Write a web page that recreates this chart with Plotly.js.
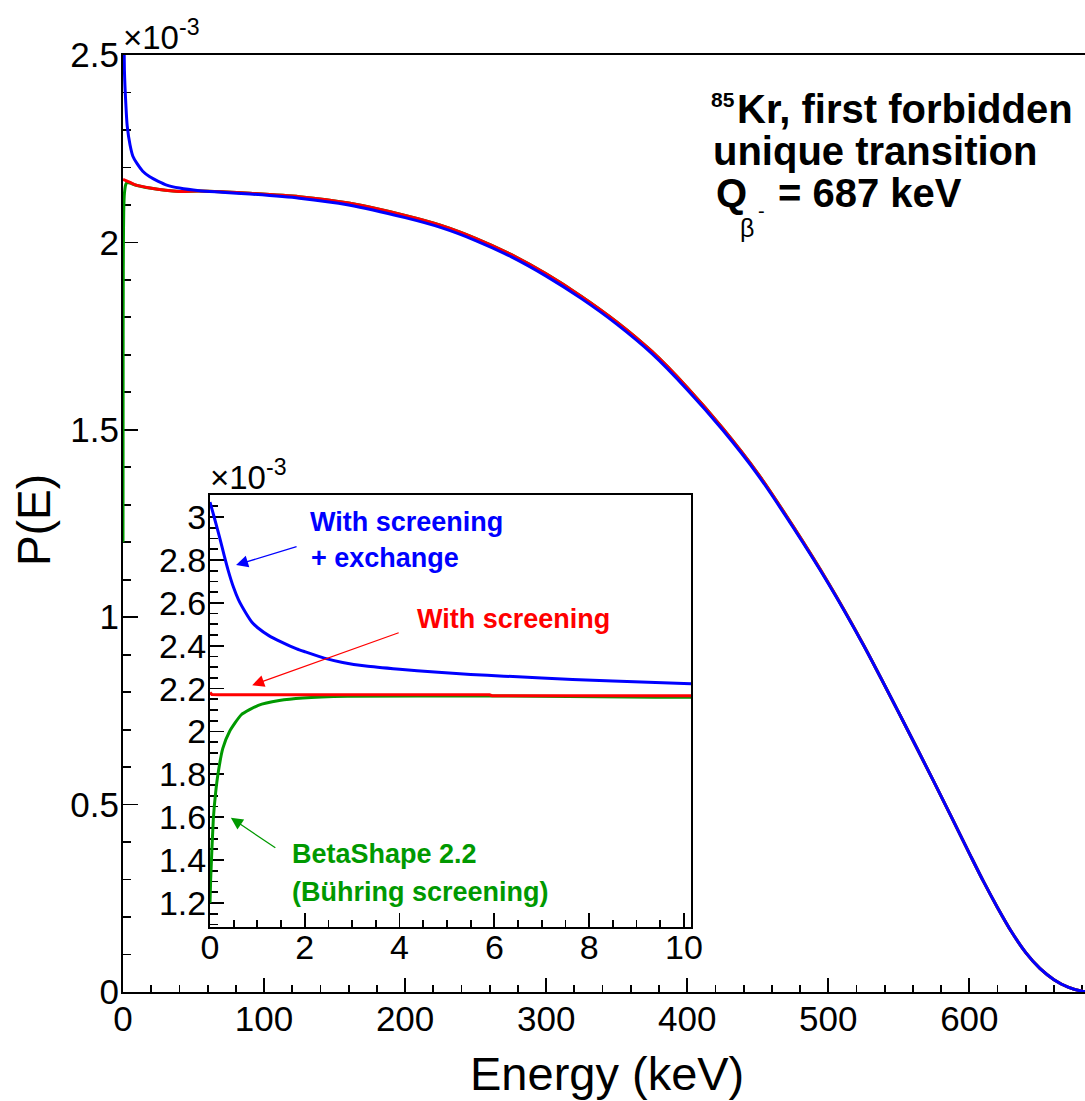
<!DOCTYPE html>
<html>
<head>
<meta charset="utf-8">
<script src="https://cdn.plot.ly/plotly-3.0.1.min.js"></script>
<style>html,body{margin:0;padding:0;background:#fff;}#chart{width:1085px;height:1101px;}</style>
</head>
<body>
<div id="chart"></div>
<script>
// ---------- Main spectrum (values in units of 1e-3) ----------
const mainEnergy = [0,0.5,1,2,3,5,7,10,14,19,25,31,40,54,70,90,125,160,200,225,250,275,300,325,350,375,400,425,450,475,500,525,550,575,600,610,620,630,640,650,660,670,680,687];
const mainScreeningExchange = [3.06,2.62,2.46,2.37,2.31,2.26,2.23,2.21,2.19,2.175,2.163,2.153,2.145,2.138,2.134,2.129,2.118,2.100,2.066,2.040,2.005,1.962,1.910,1.850,1.782,1.703,1.607,1.500,1.380,1.240,1.090,0.925,0.745,0.560,0.370,0.295,0.225,0.160,0.105,0.063,0.033,0.013,0.002,0];
const mainEnergyRed = [0,5,10,19,30,40,54,70,90,125,160,200,225,250,275,300,325,350,375,400,425,450,475,500,525,550,575,600,610,620,630,640,650,660,670,680,687];
const mainScreening = [2.168,2.160,2.152,2.145,2.139,2.136,2.137,2.135,2.131,2.122,2.105,2.072,2.046,2.011,1.968,1.916,1.856,1.788,1.709,1.613,1.505,1.384,1.243,1.092,0.926,0.745,0.560,0.370,0.295,0.225,0.160,0.105,0.063,0.033,0.013,0.002,0];
const mainEnergyGreen = [0,0.1,0.2,0.3,0.5,1,2,3,5,10,19,30,40,54,70,90,125,160,200,225,250,275,300,325,350,375,400,425,450,475,500,525,550,575,600,610,620,630,640,650,660,670,680,687];
const mainBetaShape = [1.2,1.75,1.93,2.0,2.08,2.13,2.155,2.16,2.158,2.152,2.145,2.139,2.136,2.137,2.135,2.131,2.122,2.105,2.072,2.046,2.011,1.968,1.916,1.856,1.788,1.709,1.613,1.505,1.384,1.243,1.092,0.926,0.745,0.560,0.370,0.295,0.225,0.160,0.105,0.063,0.033,0.013,0.002,0];

// ---------- Inset (0-10 keV) ----------
const insetEnergyBlue = [0,0.05,0.1,0.2,0.3,0.38,0.5,0.6,0.75,0.89,1.0,1.25,1.5,1.83,2.0,2.41,2.8,3.29,4.0,4.74,5.5,6.2,7.0,7.65,8.5,9.1,10.15];
const insetScreeningExchange = [3.07,3.03,2.99,2.908,2.82,2.754,2.67,2.615,2.555,2.508,2.485,2.446,2.418,2.385,2.372,2.342,2.322,2.305,2.29,2.277,2.266,2.258,2.25,2.243,2.236,2.231,2.223];
const insetEnergyRed = [0,0.04,0.2,1,3,5.9,5.95,10.15];
const insetScreening = [2.182,2.172,2.171,2.171,2.171,2.171,2.167,2.167];
const insetEnergyGreen = [0,0.014,0.07,0.12,0.17,0.27,0.41,0.66,1.02,1.46,1.96,2.9,5.78,9.4,10.15];
const insetBetaShape = [1.2,1.31,1.592,1.717,1.804,1.921,1.999,2.078,2.122,2.144,2.156,2.164,2.166,2.16,2.16];

// axis ticks
const mainXTicks = [0,100,200,300,400,500,600];
const mainYTicks = [0,0.5,1,1.5,2,2.5];

const BLUE = '#0000ff', RED = '#ff0000', GREEN = '#009900';
const FONT = 'Liberation Sans, Arial, Helvetica, sans-serif';

// pixel -> paper helpers (plot area: x 123..1085, y 55..992)
const L = 123, R = 1085, T = 55, B = 992;
const px = x => (x - L) / (R - L);
const py = y => (B - y) / (B - T);

const mainLine = c => ({color: c, width: 3, shape: 'spline', smoothing: 0.7});
const insetLine = c => ({color: c, width: 3, shape: 'spline', smoothing: 0.5});

const traces = [
  {x: mainEnergyGreen, y: mainBetaShape, mode: 'lines', line: mainLine(GREEN), xaxis: 'x', yaxis: 'y', hoverinfo: 'skip'},
  {x: mainEnergyRed, y: mainScreening, mode: 'lines', line: mainLine(RED), xaxis: 'x', yaxis: 'y', hoverinfo: 'skip'},
  {x: mainEnergy, y: mainScreeningExchange, mode: 'lines', line: mainLine(BLUE), xaxis: 'x', yaxis: 'y', hoverinfo: 'skip'},
  {x: insetEnergyBlue, y: insetScreeningExchange, mode: 'lines', line: insetLine(BLUE), xaxis: 'x2', yaxis: 'y2', hoverinfo: 'skip'},
  {x: insetEnergyGreen, y: insetBetaShape, mode: 'lines', line: insetLine(GREEN), xaxis: 'x2', yaxis: 'y2', hoverinfo: 'skip'},
  {x: insetEnergyRed, y: insetScreening, mode: 'lines', line: {color: RED, width: 3}, xaxis: 'x2', yaxis: 'y2', hoverinfo: 'skip'}
];

const axBase = {
  showline: true, linecolor: 'black', linewidth: 2, showgrid: false, zeroline: false,
  ticks: 'inside', tickcolor: 'black', tickwidth: 1.8,
  tickfont: {family: FONT, size: 35, color: 'black'}, layer: 'below traces'
};

const insetX0 = 210, insetX1 = 691, insetY0 = 495, insetY1 = 927;

const layout = {
  width: 1085, height: 1101,
  margin: {l: L, r: 0, t: T, b: 1101 - B, pad: 0},
  paper_bgcolor: 'white', plot_bgcolor: 'white',
  showlegend: false,
  xaxis: Object.assign({}, axBase, {
    domain: [0, 1], range: [0, 682], anchor: 'y', mirror: true,
    tickmode: 'array', tickvals: mainXTicks, ticklen: 14,
    minor: {dtick: 20, tick0: 0, ticks: 'inside', ticklen: 7, tickwidth: 1.8, tickcolor: 'black'},
    ticklabelstandoff: -5
  }),
  yaxis: Object.assign({}, axBase, {
    domain: [0, 1], range: [0, 2.5], anchor: 'x',
    tickmode: 'array', tickvals: mainYTicks, ticklen: 15,
    minor: {dtick: 0.1, tick0: 0, ticks: 'inside', ticklen: 8, tickwidth: 1.8, tickcolor: 'black'},
    ticklabelstandoff: -5
  }),
  xaxis2: Object.assign({}, axBase, {
    domain: [px(insetX0), px(insetX1)], range: [0, 10.15], anchor: 'y2', mirror: true,
    dtick: 2, tick0: 0, ticklen: 14,
    minor: {dtick: 0.5, tick0: 0, ticks: 'inside', ticklen: 7, tickwidth: 1.8, tickcolor: 'black'},
    tickfont: {family: FONT, size: 34, color: 'black'}, ticklabelstandoff: -11
  }),
  yaxis2: Object.assign({}, axBase, {
    domain: [py(insetY1), py(insetY0)], range: [1.088, 3.103], anchor: 'x2', mirror: true,
    dtick: 0.2, tick0: 1.2, ticklen: 14,
    minor: {dtick: 0.05, tick0: 1.2, ticks: 'inside', ticklen: 8, tickwidth: 1.8, tickcolor: 'black'},
    tickfont: {family: FONT, size: 34, color: 'black'}, ticklabelstandoff: -5
  }),
  annotations: [
    // axis titles
    {text: 'Energy (keV)', xref: 'paper', yref: 'paper', x: px(607), y: py(1073), xanchor: 'center', yanchor: 'middle', showarrow: false, font: {family: FONT, size: 47, color: 'black'}},
    {text: 'P(E)', xref: 'paper', yref: 'paper', x: px(34), y: py(520), xanchor: 'center', yanchor: 'middle', textangle: -90, showarrow: false, font: {family: FONT, size: 46, color: 'black'}},
    // exponent labels
    {text: '×10<sup>-3</sup>', xref: 'paper', yref: 'paper', x: px(121), y: py(58), xanchor: 'left', yanchor: 'bottom', showarrow: false, font: {family: FONT, size: 33, color: 'black'}},
    {text: '×10<sup>-3</sup>', xref: 'paper', yref: 'paper', x: px(208), y: py(498), xanchor: 'left', yanchor: 'bottom', showarrow: false, font: {family: FONT, size: 33, color: 'black'}},
    // info text
    {text: '<b>85</b>', xref: 'paper', yref: 'paper', x: px(709), y: py(99.5), xanchor: 'left', yanchor: 'middle', showarrow: false, font: {family: FONT, size: 21, color: 'black'}},
    {text: '<b>Kr, first forbidden</b>', xref: 'paper', yref: 'paper', x: px(735), y: py(109), xanchor: 'left', yanchor: 'middle', showarrow: false, font: {family: FONT, size: 40, color: 'black'}},
    {text: '<b>unique transition</b>', xref: 'paper', yref: 'paper', x: px(711), y: py(151), xanchor: 'left', yanchor: 'middle', showarrow: false, font: {family: FONT, size: 40, color: 'black'}},
    {text: '<b>Q</b>', xref: 'paper', yref: 'paper', x: px(714), y: py(193), xanchor: 'left', yanchor: 'middle', showarrow: false, font: {family: FONT, size: 40, color: 'black'}},
    {text: 'β', xref: 'paper', yref: 'paper', x: px(738), y: py(228), xanchor: 'left', yanchor: 'middle', showarrow: false, font: {family: FONT, size: 25, color: 'black'}},
    {text: '-', xref: 'paper', yref: 'paper', x: px(756), y: py(211), xanchor: 'left', yanchor: 'middle', showarrow: false, font: {family: FONT, size: 20, color: 'black'}},
    {text: '<b>= 687 keV</b>', xref: 'paper', yref: 'paper', x: px(776), y: py(193), xanchor: 'left', yanchor: 'middle', showarrow: false, font: {family: FONT, size: 40, color: 'black'}},
    // inset labels
    {text: '<b>With screening</b>', xref: 'paper', yref: 'paper', x: px(308), y: py(522), xanchor: 'left', yanchor: 'middle', showarrow: false, font: {family: FONT, size: 27, color: BLUE}},
    {text: '<b>+ exchange</b>', xref: 'paper', yref: 'paper', x: px(309), y: py(558), xanchor: 'left', yanchor: 'middle', showarrow: false, font: {family: FONT, size: 27, color: BLUE}},
    {text: '<b>With screening</b>', xref: 'paper', yref: 'paper', x: px(415), y: py(619), xanchor: 'left', yanchor: 'middle', showarrow: false, font: {family: FONT, size: 27, color: RED}},
    {text: '<b>BetaShape 2.2</b>', xref: 'paper', yref: 'paper', x: px(290), y: py(854), xanchor: 'left', yanchor: 'middle', showarrow: false, font: {family: FONT, size: 27, color: GREEN}},
    {text: '<b>(Bühring screening)</b>', xref: 'paper', yref: 'paper', x: px(290), y: py(892), xanchor: 'left', yanchor: 'middle', showarrow: false, font: {family: FONT, size: 27, color: GREEN}},
    // arrows
    {text: '', xref: 'x2', yref: 'y2', x: 0.55, y: 2.776, ax: 62, ay: -19, axref: 'pixel', ayref: 'pixel', showarrow: true, arrowhead: 2, arrowsize: 2, arrowwidth: 1.2, arrowcolor: BLUE, standoff: 0},
    {text: '', xref: 'x2', yref: 'y2', x: 0.89, y: 2.216, ax: 148, ay: -53, axref: 'pixel', ayref: 'pixel', showarrow: true, arrowhead: 2, arrowsize: 2, arrowwidth: 1.2, arrowcolor: RED, standoff: 0},
    {text: '', xref: 'x2', yref: 'y2', x: 0.44, y: 1.597, ax: 46, ay: 31, axref: 'pixel', ayref: 'pixel', showarrow: true, arrowhead: 2, arrowsize: 2, arrowwidth: 1.2, arrowcolor: GREEN, standoff: 0}
  ]
};

Plotly.newPlot('chart', traces, layout, {staticPlot: true, displayModeBar: false});
</script>
</body>
</html>
